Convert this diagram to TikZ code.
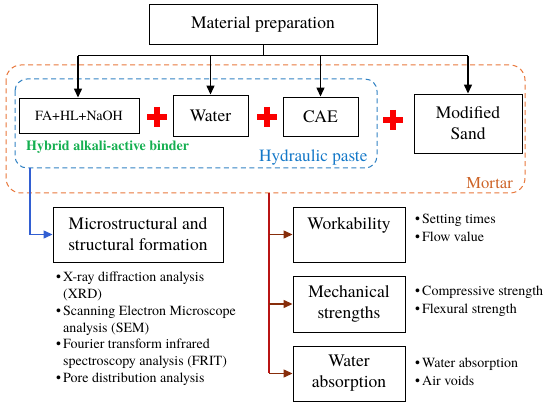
\documentclass[tikz,border=0pt]{standalone}
\usepackage{fontspec}
\setmainfont{TeX Gyre Termes}
\newfontfamily\timesfont{TeX Gyre Termes}
\usetikzlibrary{arrows.meta}
\definecolor{orgdash}{RGB}{232,120,60}
\definecolor{orgtext}{RGB}{205,100,40}
\definecolor{bluedash}{RGB}{50,130,195}
\definecolor{bluetext}{RGB}{20,120,200}
\definecolor{greentext}{RGB}{20,175,80}
\definecolor{plusred}{RGB}{250,0,0}
\definecolor{bluearrow}{RGB}{50,95,210}
\definecolor{redline}{RGB}{185,20,20}
\definecolor{brownarrow}{RGB}{135,45,10}
\newcommand\bul{\makebox[7pt][l]{\textbullet}}
\newcommand\ind{\hspace*{7pt}}
\begin{document}
\begin{tikzpicture}[x=1pt,y=-1pt,
  every node/.style={font=\timesfont},
  box/.style={draw=black, line width=0.9pt, inner sep=0pt, align=center,
    font=\timesfont\fontsize{17.5}{21}\selectfont},
  listtext/.style={inner sep=0pt, align=left, font=\timesfont\fontsize{14}{16.8}\selectfont},
  listtextb/.style={inner sep=0pt, align=left, font=\timesfont\fontsize{14}{18}\selectfont},
  blackarr/.style={draw=black, line width=1.3pt, -{Triangle[length=9pt,width=8pt]}},
  blackline/.style={draw=black, line width=1pt},
  orangebox/.style={draw=orgdash, line width=1pt, dash pattern=on 5pt off 3.5pt, rounded corners=15pt},
  bluebox/.style={draw=bluedash, line width=1pt, dash pattern=on 5pt off 3.5pt, rounded corners=12pt},
  bluearr/.style={draw=bluearrow, line width=1.3pt, -{Triangle[length=9pt,width=8pt]}},
  redvert/.style={draw=redline, line width=1.1pt},
  brownarr/.style={draw=brownarrow, line width=1.3pt, -{Triangle[length=9pt,width=8pt]}},
  redplus/.pic={\draw[plusred, line width=5.5pt] (-10,0) -- (10,0) (0,-10) -- (0,10);}
]
\useasboundingbox (0,0) rectangle (550,406);

% dashed groups
\draw[orangebox] (6,65) rectangle (525,193);
\draw[bluebox] (15,79) rectangle (377,168);

% boxes
\node[box, minimum width=228pt, minimum height=40pt] (mat) at (263,24) {Material preparation};
\node[box, minimum width=120pt, minimum height=35pt, font=\timesfont\fontsize{14}{17}\selectfont] (fa) at (79,115.5) {FA+HL+NaOH};
\node[box, minimum width=75pt, minimum height=41pt] (water) at (210.5,115.5) {Water};
\node[box, minimum width=75pt, minimum height=39pt] (cae) at (320.5,116.5) {CAE};
\node[box, minimum width=108pt, minimum height=59pt] (sand) at (468,123.5) {Modified\\Sand};
\node[box, minimum width=170pt, minimum height=55pt] (micro) at (138,234.5) {Microstructural and\\structural formation};
\node[box, minimum width=112pt, minimum height=55pt] (work) at (349,234.5) {};
\node[inner sep=0pt, font=\timesfont\fontsize{17.5}{21}\selectfont] (worktext) at (349,225) {Workability};
\node[box, minimum width=112pt, minimum height=56pt] (mech) at (349,304) {Mechanical\\strengths};
\node[box, minimum width=112pt, minimum height=55pt] (wabs) at (349,373.5) {Water\\absorption};

% distribution from material preparation
\coordinate (hl) at (78,56);
\coordinate (hr) at (468,56);
\draw[blackline] (mat.south) -- (mat.south |- hl);
\draw[blackline] (hl) -- (hr);
\draw[blackarr] (hl) -- (fa.north -| hl);
\draw[blackarr] (water.north |- hl) -- (water.north);
\draw[blackarr] (cae.north |- hl) -- (cae.north);
\draw[blackarr] (hr) -- (sand.north);

% plus signs
\pic at (157,117) {redplus};
\pic at (267,117) {redplus};
\pic at (393,120) {redplus};

% group labels
\node[inner sep=0pt, anchor=west, text=greentext, font=\timesfont\bfseries\fontsize{14}{16}\selectfont] (hyb) at (26,147) {Hybrid alkali-active binder};
\node[inner sep=0pt, anchor=west, text=bluetext, font=\timesfont\fontsize{17.2}{20}\selectfont] (hyd) at (259,158) {Hydraulic paste};
\node[inner sep=0pt, anchor=base east, text=orgtext, font=\timesfont\fontsize{16.6}{20}\selectfont] (mor) at (513,189) {Mortar};

% blue connector
\coordinate (bstart) at (30,168);
\draw[bluearr] (bstart) |- (micro.west);

% red / brown connectors
\coordinate (rtop) at (269,193);
\draw[redvert] (rtop) -- (rtop |- wabs.west);
\draw[brownarr] (rtop |- work.west) -- (work.west);
\draw[brownarr] (rtop |- mech.west) -- (mech.west);
\draw[brownarr] (rtop |- wabs.west) -- (wabs.west);

% bullet lists
\node[listtext, anchor=north west] (mlist) at (56,272) {\bul X-ray diffraction analysis\\
\ind (XRD)\\
\bul Scanning Electron Microscope\\
\ind analysis (SEM)\\
\bul Fourier transform infrared\\
\ind spectroscopy analysis (FRIT)\\
\bul Pore distribution analysis};
\node[listtextb, anchor=north west] (wlist) at (415,214) {\bul Setting times\\ \bul Flow value};
\node[listtextb, anchor=north west] (klist) at (415,286) {\bul Compressive strength\\ \bul Flexural strength};
\node[listtextb, anchor=north west] (alist) at (415,358) {\bul Water absorption\\ \bul Air voids};
\end{tikzpicture}
\end{document}
